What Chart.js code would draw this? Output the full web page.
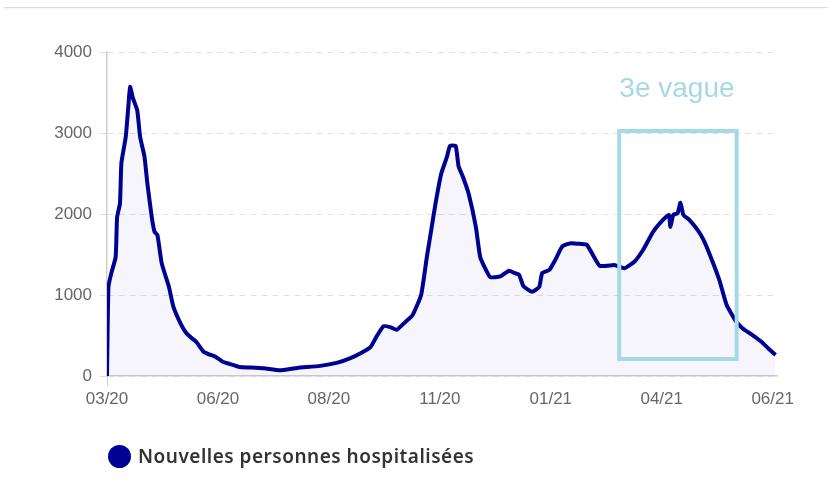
<!DOCTYPE html>
<html>
<head>
<meta charset="utf-8">
<script src="https://cdn.jsdelivr.net/npm/chart.js@4/dist/chart.umd.min.js"></script>
<style>
  body { margin: 0; background: #fff; }
  #wrap { position: relative; width: 828px; height: 492px; }
  #topline { position: absolute; left: 4px; top: 7px; width: 824px; height: 1px; background: #dcdcdc; box-shadow: 0 1px 2px rgba(0,0,0,0.06); }
  #legend { position: absolute; left: 108px; top: 443px; display: flex; align-items: center; font-family: "Noto Sans", sans-serif; font-weight: 600; font-size: 19px; letter-spacing: 0.5px; color: #333; }
  #legend .dot { width: 23px; height: 23px; border-radius: 50%; background: #000091; margin-right: 7px; }
</style>
</head>
<body>
<div id="wrap">
  <div id="topline"></div>
  <canvas id="chart" width="828" height="492"></canvas>
  <div id="legend"><span class="dot"></span><span>Nouvelles personnes hospitalisées</span></div>
</div>
<script>
// days since 18/03/2020 and daily new hospitalisations
const dayIndex = [0, 1, 3, 6, 7, 9, 10, 13, 15, 16, 18, 21, 23, 26, 28, 31, 33, 35, 38, 43,
  46, 51, 55, 59, 62, 67, 72, 75, 80, 85, 92, 100, 109, 120, 132, 148, 160, 169, 176, 183,
  187, 192, 197, 201, 206, 212, 218, 222, 225, 228, 232, 236, 238, 242, 244, 247, 251, 256, 259, 263,
  266, 273, 279, 283, 286, 289, 295, 300, 302, 307, 311, 316, 322, 329, 333, 338, 342, 352, 354, 359,
  366, 372, 379, 386, 390, 391, 393, 396, 398, 400, 404, 410, 414, 419, 425, 430, 436, 441, 448, 454,
  459, 464];
const newHospitalised = [0, 1100, 1270, 1470, 1960, 2130, 2630, 2950, 3370, 3570, 3430, 3280, 2950, 2710, 2380, 1970, 1780, 1740, 1390, 1100,
  860, 650, 530, 465, 420, 300, 260, 240, 180, 150, 110, 105, 95, 70, 100, 125, 165, 220, 280, 360,
  485, 615, 600, 570, 650, 750, 1000, 1470, 1800, 2130, 2500, 2710, 2840, 2840, 2590, 2460, 2250, 1840, 1470, 1310,
  1220, 1230, 1300, 1270, 1250, 1110, 1040, 1100, 1270, 1310, 1430, 1600, 1640, 1630, 1620, 1470, 1360, 1370, 1360, 1330,
  1410, 1555, 1780, 1930, 1990, 1840, 1990, 2010, 2140, 1990, 1930, 1800, 1680, 1470, 1185, 880, 690, 590, 505, 425,
  340, 260];

const tickDays = [0, 77, 154, 231, 308, 385, 462];
const tickLabels = ['03/20', '06/20', '08/20', '11/20', '01/21', '04/21', '06/21'];

// "3e vague" box, in data units
const waveLabel = '3e vague';
const waveFrom = 355.5, waveTo = 437;
const waveTop = 3025, waveBottom = 210;

const waveBox = {
  id: 'waveBox',
  afterDatasetsDraw(chart) {
    const ctx = chart.ctx;
    const x = chart.scales.x, y = chart.scales.y;
    const x1 = x.getPixelForValue(waveFrom), x2 = x.getPixelForValue(waveTo);
    const y1 = y.getPixelForValue(waveTop), y2 = y.getPixelForValue(waveBottom);
    ctx.save();
    ctx.strokeStyle = '#a6d9e6';
    ctx.lineWidth = 4;
    ctx.strokeRect(x1, y1, x2 - x1, y2 - y1);
    ctx.fillStyle = '#a6d9e6';
    ctx.font = '28px "Liberation Sans", Arial, sans-serif';
    ctx.textAlign = 'center';
    ctx.textBaseline = 'alphabetic';
    ctx.fillText(waveLabel, (x1 + x2) / 2 - 1, y1 - 34);
    ctx.restore();
  }
};

Chart.defaults.font.family = '"Liberation Sans", Arial, sans-serif';
Chart.defaults.color = '#666';

const points = dayIndex.map((d, i) => ({ x: d, y: newHospitalised[i] }));

new Chart(document.getElementById('chart'), {
  type: 'line',
  data: {
    datasets: [{
      label: 'Nouvelles personnes hospitalisées',
      data: points,
      borderColor: '#000091',
      borderWidth: 4,
      backgroundColor: 'rgba(0, 0, 145, 0.04)',
      fill: 'origin',
      pointRadius: 0,
      tension: 0.15
    }]
  },
  options: {
    responsive: false,
    animation: false,
    layout: { padding: { left: 0, right: 51, top: 52, bottom: 0 } },
    plugins: { legend: { display: false }, tooltip: { enabled: false } },
    scales: {
      x: {
        type: 'linear',
        min: 0,
        max: 465,
        afterBuildTicks: (scale) => { scale.ticks = tickDays.map(v => ({ value: v })); },
        afterFit: (scale) => { scale.height = 116; },
        ticks: {
          autoSkip: false,
          maxRotation: 0,
          padding: 3,
          font: { size: 17 },
          callback: (v) => tickLabels[tickDays.indexOf(v)]
        },
        grid: {
          drawOnChartArea: false,
          tickLength: 10,
          color: (c) => c.index === 0 ? '#cfcfcf' : 'rgba(0,0,0,0)'
        },
        border: { display: true, color: '#cfcfcf', width: 1.5 }
      },
      y: {
        min: 0,
        max: 4000,
        afterFit: (scale) => { scale.width = 107; },
        ticks: { stepSize: 1000, padding: 8, font: { size: 17 }, callback: (v) => String(v) },
        grid: { color: '#e0e0e0', tickLength: 7 },
        border: { display: true, color: '#cfcfcf', width: 1.5, dash: [6, 5] }
      }
    }
  },
  plugins: [waveBox]
});
</script>
</body>
</html>
